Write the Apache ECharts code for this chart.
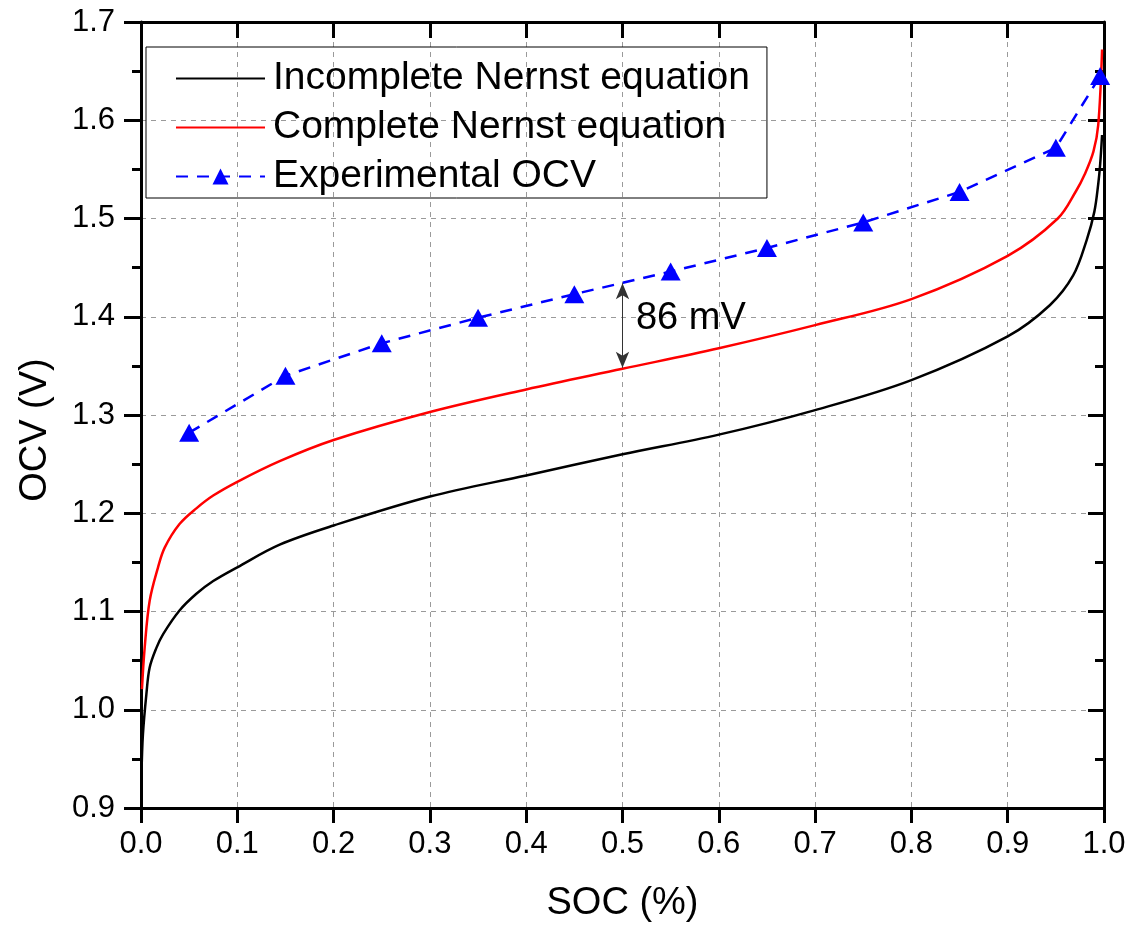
<!DOCTYPE html>
<html>
<head>
<meta charset="utf-8">
<script src="https://cdn.jsdelivr.net/npm/echarts@6/dist/echarts.min.js"></script>
<style>html,body{margin:0;padding:0;background:#fff;}#c{width:1135px;height:934px;}</style>
</head>
<body>
<div id="c"></div>
<script>
// ---- data ----
const seriesNames = ['Incomplete Nernst equation', 'Complete Nernst equation', 'Experimental OCV'];
const incompleteSoc = [0.0005, 0.002, 0.0056, 0.009, 0.016, 0.023, 0.04, 0.0575, 0.075, 0.1, 0.144, 0.2, 0.3, 0.4, 0.5, 0.6, 0.7, 0.8, 0.9, 0.944, 0.968, 0.982, 0.99, 0.994, 0.996, 0.998];
const incompleteOcv = [0.935, 0.975, 1.016, 1.043, 1.063, 1.077, 1.101, 1.118, 1.131, 1.145, 1.168, 1.1875, 1.217, 1.2385, 1.26, 1.28, 1.305, 1.3355, 1.38, 1.412, 1.442, 1.478, 1.507, 1.535, 1.555, 1.585];
const completeSoc = [0.001, 0.0038, 0.009, 0.0177, 0.0246, 0.04, 0.0575, 0.075, 0.1, 0.144, 0.2, 0.3, 0.4, 0.5, 0.6, 0.7, 0.8, 0.9, 0.952, 0.971, 0.98, 0.989, 0.994, 0.998];
const completeOcv = [1.021, 1.063, 1.111, 1.145, 1.165, 1.189, 1.205, 1.218, 1.232, 1.253, 1.2745, 1.303, 1.326, 1.347, 1.368, 1.3915, 1.418, 1.462, 1.50, 1.528, 1.545, 1.568, 1.595, 1.672];
const expSoc = [0.05, 0.15, 0.25, 0.35, 0.45, 0.55, 0.65, 0.75, 0.85, 0.95, 0.996];
const expOcv = [1.282, 1.340, 1.373, 1.399, 1.423, 1.446, 1.470, 1.496, 1.527, 1.572, 1.645];
const gapSoc = 0.5, gapTop = 1.434, gapBottom = 1.348, gapLabel = '86 mV';
const gapLabelPos = [0.514, 1.398];
const xTitle = 'SOC (%)', yTitle = 'OCV (V)';

const zip = (a, b) => a.map((v, i) => [v, b[i]]);
const FONT = '"Liberation Sans", Arial, sans-serif';
const gridLine = { show: true, lineStyle: { color: '#9a9a9a', width: 1, type: [5, 5] } };
const axLine = { show: true, onZero: false, lineStyle: { color: '#000', width: 3 } };

const chart = echarts.init(document.getElementById('c'), null, { renderer: 'canvas' });
chart.setOption({
  animation: false,
  backgroundColor: '#fff',
  grid: { left: 141, right: 31, top: 22, bottom: 126, containLabel: false },
  legend: {
    orient: 'vertical', left: 146, top: 47,
    padding: [12, 17, 2, 29], itemGap: 10,
    itemWidth: 89, itemHeight: 20,
    borderColor: '#000', borderWidth: 1,
    textStyle: { fontFamily: FONT, fontSize: 39, color: '#000', padding: [0, 0, 0, 3] },
    data: [
      { name: seriesNames[0], itemStyle: { opacity: 0 } },
      { name: seriesNames[1], itemStyle: { opacity: 0 } },
      { name: seriesNames[2] }
    ]
  },
  xAxis: [
    { type: 'value', min: 0, max: 1, interval: 0.1, position: 'bottom',
      name: xTitle, nameLocation: 'middle', nameGap: 77,
      nameTextStyle: { fontFamily: FONT, fontSize: 38, color: '#000' },
      axisLine: axLine,
      axisTick: { show: true, inside: false, length: 15, lineStyle: { color: '#000', width: 3 } },
      axisLabel: { fontFamily: FONT, fontSize: 31, color: '#000', margin: 21, formatter: v => v.toFixed(1) },
      splitLine: gridLine },
    { type: 'value', min: 0, max: 1, interval: 0.1, position: 'top',
      axisLine: axLine,
      axisTick: { show: true, inside: true, length: 16, lineStyle: { color: '#000', width: 3 } },
      axisLabel: { show: false }, splitLine: { show: false } }
  ],
  yAxis: [
    { type: 'value', min: 0.9, max: 1.7, interval: 0.1, position: 'left',
      name: yTitle, nameLocation: 'middle', nameGap: 86, nameRotate: 90,
      nameTextStyle: { fontFamily: FONT, fontSize: 38, color: '#000', padding: [0, 30, 0, 0] },
      axisLine: axLine,
      axisTick: { show: true, inside: false, length: 17, lineStyle: { color: '#000', width: 3 } },
      minorTick: { show: true, splitNumber: 2, length: 9, lineStyle: { color: '#000', width: 3 } },
      axisLabel: { fontFamily: FONT, fontSize: 31, color: '#000', margin: 26, formatter: v => v.toFixed(1) },
      splitLine: gridLine },
    { type: 'value', min: 0.9, max: 1.7, interval: 0.1, position: 'right',
      axisLine: axLine,
      axisTick: { show: true, inside: true, length: 16, lineStyle: { color: '#000', width: 3 } },
      minorTick: { show: true, splitNumber: 2, length: 9, lineStyle: { color: '#000', width: 3 } },
      axisLabel: { show: false }, splitLine: { show: false } }
  ],
  series: [
    { name: seriesNames[0], type: 'line', xAxisIndex: 0, yAxisIndex: 0,
      data: zip(incompleteSoc, incompleteOcv), showSymbol: false, symbol: 'none',
      smooth: 0.35,
      lineStyle: { color: '#000', width: 2.5 }, itemStyle: { color: '#000' },
      markLine: {
        silent: true, symbol: ['arrow', 'arrow'], symbolSize: [10, 16],
        lineStyle: { color: '#333', width: 1, type: 'solid' },
        label: { show: false },
        data: [[{ coord: [gapSoc, gapTop] }, { coord: [gapSoc, gapBottom] }]]
      },
      markPoint: {
        silent: true, symbol: 'circle', symbolSize: 0,
        label: { show: true, position: 'right', distance: 0, formatter: gapLabel,
          fontFamily: FONT, fontSize: 38, color: '#000' },
        data: [{ coord: gapLabelPos }]
      } },
    { name: seriesNames[1], type: 'line', xAxisIndex: 0, yAxisIndex: 0,
      data: zip(completeSoc, completeOcv), showSymbol: false, symbol: 'none',
      smooth: 0.35,
      lineStyle: { color: '#ff0000', width: 2.5 }, itemStyle: { color: '#ff0000' } },
    { name: seriesNames[2], type: 'line', xAxisIndex: 0, yAxisIndex: 0,
      data: zip(expSoc, expOcv), symbol: 'triangle', symbolSize: [20, 18], showSymbol: true,
      lineStyle: { color: '#0000ff', width: 2.5, type: [12, 9] },
      itemStyle: { color: '#0000ff' } }
  ]
});
</script>
</body>
</html>
